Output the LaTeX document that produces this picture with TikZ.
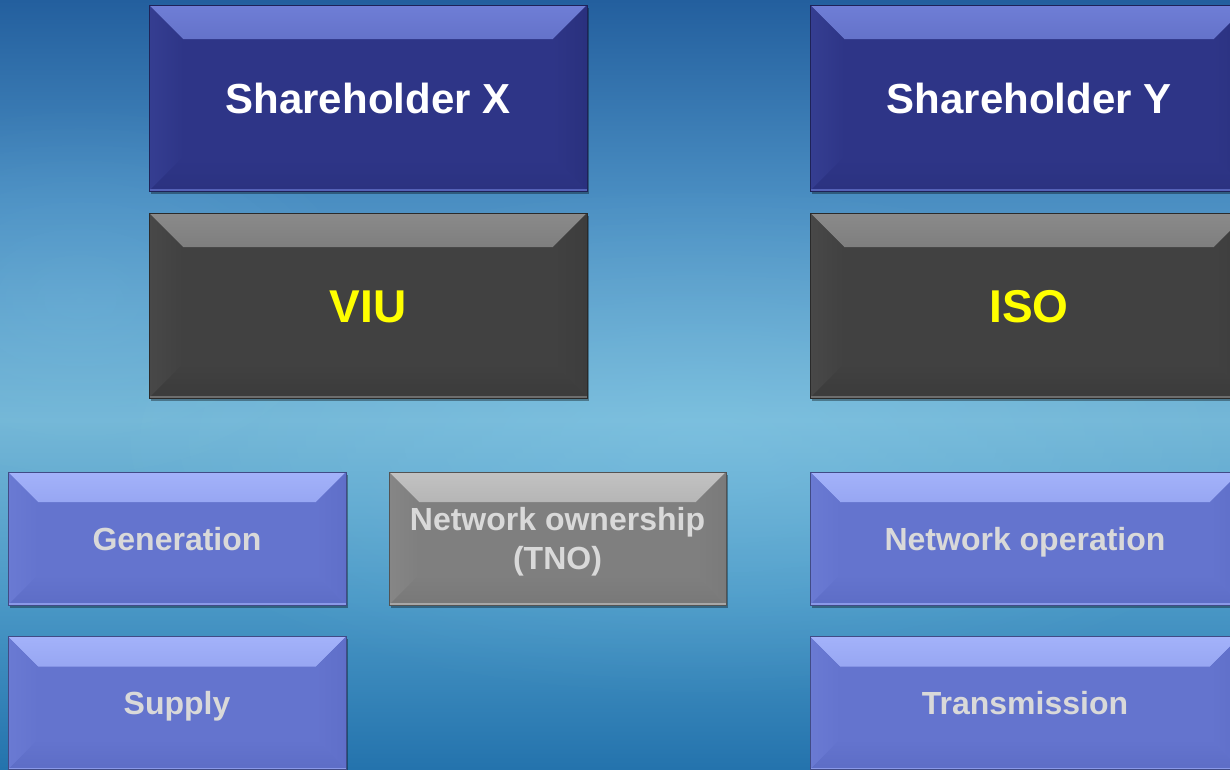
\documentclass[tikz,border=0pt]{standalone}
\usepackage{fontspec}
\setmainfont{Liberation Sans}
\usetikzlibrary{fadings,shadows,calc}

\tikzfading[name=softspot, inner color=transparent!0, outer color=transparent!100]

\definecolor{bgA}{HTML}{235F9E}
\definecolor{bgB}{HTML}{4A8EC2}
\definecolor{bgC}{HTML}{73B6D6}
\definecolor{bgD}{HTML}{4A98C6}
\definecolor{bgE}{HTML}{2473AD}
\pgfdeclareverticalshading{bgshade}{100bp}{color(0bp)=(bgE); color(25bp)=(bgE); color(36bp)=(bgD); color(47.7bp)=(bgC); color(62bp)=(bgB); color(75bp)=(bgA); color(100bp)=(bgA)}

\definecolor{nvF}{HTML}{2E3587}
\definecolor{nvT}{HTML}{6F7ED6}
\definecolor{nvTi}{HTML}{343E92}
\definecolor{nvL}{HTML}{353E91}
\definecolor{nvR}{HTML}{2A317E}
\definecolor{nvB}{HTML}{2B3280}
\definecolor{dkF}{HTML}{414141}
\definecolor{dkT}{HTML}{8A8A8A}
\definecolor{dkTi}{HTML}{4B4B4B}
\definecolor{dkL}{HTML}{484848}
\definecolor{dkR}{HTML}{3D3D3D}
\definecolor{dkB}{HTML}{3B3B3B}
\definecolor{lbF}{HTML}{6474CE}
\definecolor{lbT}{HTML}{A3B2FA}
\definecolor{lbTi}{HTML}{6E7ED8}
\definecolor{lbL}{HTML}{6A7AD3}
\definecolor{lbR}{HTML}{5F6FC9}
\definecolor{lbB}{HTML}{5D6DC6}
\definecolor{grF}{HTML}{7F7F7F}
\definecolor{grT}{HTML}{C2C2C2}
\definecolor{grTi}{HTML}{8C8C8C}
\definecolor{grL}{HTML}{868686}
\definecolor{grR}{HTML}{7A7A7A}
\definecolor{grB}{HTML}{787878}
\definecolor{txgrey}{HTML}{D9D9D9}
\definecolor{txyellow}{HTML}{FFFF00}

\tikzset{
  bevel size/.store in=\bvsize, bevel size=34pt,
  bevelbox/.style n args={6}{
    rectangle, inner sep=0pt, align=center, fill=#1, draw=#1!65!black, line width=0.7pt,
    drop shadow={shadow xshift=1.5pt, shadow yshift=-2.5pt, opacity=0.35, fill=black},
    path picture={
      \shade[top color=#2, bottom color=#3]
        (path picture bounding box.north west) -- (path picture bounding box.north east)
        -- ([xshift=-\bvsize,yshift=-\bvsize]path picture bounding box.north east)
        -- ([xshift=\bvsize,yshift=-\bvsize]path picture bounding box.north west) -- cycle;
      \shade[left color=#4, right color=#1]
        (path picture bounding box.north west)
        -- ([xshift=\bvsize,yshift=-\bvsize]path picture bounding box.north west)
        -- ([xshift=\bvsize,yshift=\bvsize]path picture bounding box.south west)
        -- (path picture bounding box.south west) -- cycle;
      \shade[right color=#5, left color=#1]
        (path picture bounding box.north east)
        -- ([xshift=-\bvsize,yshift=-\bvsize]path picture bounding box.north east)
        -- ([xshift=-\bvsize,yshift=\bvsize]path picture bounding box.south east)
        -- (path picture bounding box.south east) -- cycle;
      \shade[top color=#1, bottom color=#6]
        (path picture bounding box.south west)
        -- ([xshift=\bvsize,yshift=\bvsize]path picture bounding box.south west)
        -- ([xshift=-\bvsize,yshift=\bvsize]path picture bounding box.south east)
        -- (path picture bounding box.south east) -- cycle;
      \draw[#2!60!#1, line width=2pt]
        ([yshift=1pt]path picture bounding box.south west) -- ([yshift=1pt]path picture bounding box.south east);
    }
  },
  navybox/.style={bevelbox={nvF}{nvT}{nvTi}{nvL}{nvR}{nvB}, bevel size=34pt,
    minimum width=438pt, minimum height=186pt, text=white,
    text height=30pt, text depth=0pt,
    font=\bfseries\fontsize{42}{48}\selectfont},
  darkbox/.style={bevelbox={dkF}{dkT}{dkTi}{dkL}{dkR}{dkB}, bevel size=34pt,
    minimum width=438pt, minimum height=185pt, text=txyellow,
    text height=33pt, text depth=0pt,
    font=\bfseries\fontsize{46}{52}\selectfont},
  lightbox/.style={bevelbox={lbF}{lbT}{lbTi}{lbL}{lbR}{lbB}, bevel size=30pt,
    minimum height=133pt, text=txgrey,
    text height=23pt, text depth=0pt,
    font=\bfseries\fontsize{32}{37}\selectfont},
  greybox/.style={bevelbox={grF}{grT}{grTi}{grL}{grR}{grB}, bevel size=30pt,
    minimum height=133pt, text=txgrey,
    text height=62pt, text depth=1pt,
    font=\bfseries\fontsize{32}{39}\selectfont},
}

\begin{document}
\begin{tikzpicture}[x=1pt, y=-1pt]
  \useasboundingbox (0,0) rectangle (1230,769);
  \clip (0,0) rectangle (1230,769);
  % background
  \shade[shading=bgshade] (0,0) rectangle (1230,769);
  \fill[white!60!cyan, opacity=0.25, path fading=softspot] (700,440) ellipse (620pt and 260pt);
  \fill[white!60!cyan, opacity=0.15, path fading=softspot] (80,300) ellipse (300pt and 200pt);

  % boxes
  \node[navybox] (shx) at (368,98) {Shareholder X};
  \node[navybox] (shy) at (1029,98) {Shareholder Y};
  \node[darkbox] (viu) at (368,305.5) {VIU};
  \node[darkbox] (iso) at (1029,305.5) {ISO};
  \node[lightbox, minimum width=338pt] (gen) at (177,538.5) {Generation};
  \node[greybox, minimum width=337pt] (tno) at (557.5,538.5) {Network ownership\\(TNO)};
  \node[lightbox, minimum width=430pt] (nop) at (1025,538.5) {Network operation};
  \node[lightbox, minimum width=338pt] (sup) at (177,703) {Supply};
  \node[lightbox, minimum width=430pt] (trn) at (1025,703) {Transmission};
\end{tikzpicture}
\end{document}
